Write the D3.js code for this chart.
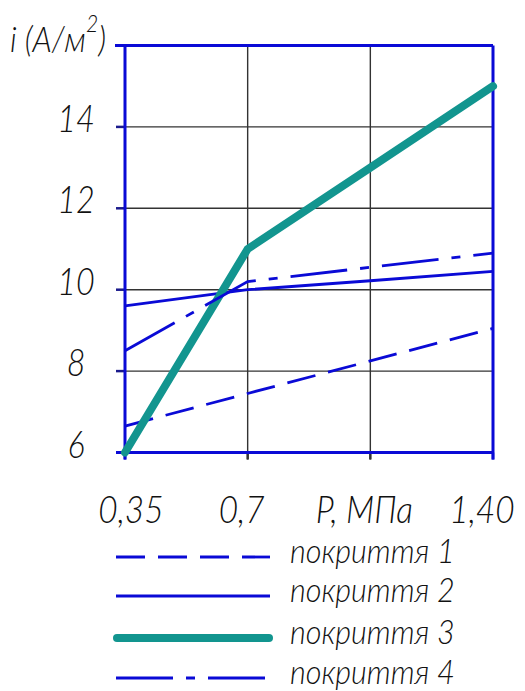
<!DOCTYPE html>
<html><head><meta charset="utf-8">
<script src="https://cdn.jsdelivr.net/npm/d3@7"></script>
<style>
html,body{margin:0;padding:0;background:#fff;}
text{font-family:Lato,Roboto,"DejaVu Sans",sans-serif;font-style:italic;font-weight:300;fill:#111;}
</style></head>
<body><svg id="c" width="525" height="691"></svg>
<script>
const pressures = [0.35, 0.70, 1.05, 1.40];
const xTickLabels = ["0,35", "0,7", "P, МПа", "1,40"];
const yTicks = [6, 8, 10, 12, 14];
const yTickLabels = ["6", "8", "10", "12", "14"];
const coating1 = [6.65, 7.45, 8.25, 9.05];
const coating2 = [9.6, 10.0, 10.22, 10.45];
const coating3 = [6.0, 11.0, 13.0, 15.0];
const coating4 = [8.5, 10.2, 10.55, 10.9];
const seriesNames = ["покриття 1", "покриття 2", "покриття 3", "покриття 4"];

const svg = d3.select("#c");
const x = d3.scaleLinear().domain([0.35, 1.40]).range([125, 493]);
const y = d3.scaleLinear().domain([6, 16]).range([452.5, 45.5]);

const BLUE = "#0a0ad6", TEAL = "#12958f", NAVY = "#1a1a8c";
const styles = [
  {stroke: BLUE, width: 2.8, dash: "29,13", cap: "butt"},
  {stroke: BLUE, width: 2.8, dash: null, cap: "butt"},
  {stroke: TEAL, width: 8, dash: null, cap: "round"},
  {stroke: BLUE, width: 2.8, dash: "57,13,9,13", cap: "butt"}
];
const series = [coating1, coating2, coating3, coating4];

// grid
const g = svg.append("g");
g.selectAll(".gx").data(pressures.slice(1, 3)).join("line")
  .attr("x1", d => x(d)).attr("x2", d => x(d))
  .attr("y1", y(16)).attr("y2", y(6) + 7)
  .attr("stroke", "#333").attr("stroke-width", 1.4);
g.selectAll(".gy").data(yTicks.slice(1)).join("line")
  .attr("x1", x(0.35)).attr("x2", x(1.40))
  .attr("y1", d => y(d)).attr("y2", d => y(d))
  .attr("stroke", "#333").attr("stroke-width", 1.4);
// left ticks
g.selectAll(".ty").data(yTicks).join("line")
  .attr("x1", x(0.35) - 9).attr("x2", x(0.35))
  .attr("y1", d => y(d)).attr("y2", d => y(d))
  .attr("stroke", NAVY).attr("stroke-width", 2.5);
// bottom ticks
g.selectAll(".tx").data(pressures).join("line")
  .attr("x1", d => x(d)).attr("x2", d => x(d))
  .attr("y1", y(6)).attr("y2", y(6) + 7)
  .attr("stroke", d => (d === 0.35 || d === 1.40) ? BLUE : "#333").attr("stroke-width", 2.5);

// frame
const fw = 3;
g.append("line").attr("x1", x(0.35) - 10).attr("x2", x(1.40)).attr("y1", y(16)).attr("y2", y(16)).attr("stroke", BLUE).attr("stroke-width", fw);
g.append("line").attr("x1", x(0.35) - 9).attr("x2", x(1.40)).attr("y1", y(6)).attr("y2", y(6)).attr("stroke", BLUE).attr("stroke-width", fw);
g.append("line").attr("x1", x(0.35)).attr("x2", x(0.35)).attr("y1", y(16)).attr("y2", y(6) + 7).attr("stroke", BLUE).attr("stroke-width", fw);
g.append("line").attr("x1", x(1.40)).attr("x2", x(1.40)).attr("y1", y(16)).attr("y2", y(6) + 7).attr("stroke", BLUE).attr("stroke-width", fw);

// series
const line = d3.line().x((d, i) => x(pressures[i])).y(d => y(d));
series.forEach((s, k) => {
  const st = styles[k];
  svg.append("path").datum(s).attr("d", line)
    .attr("fill", "none").attr("stroke", st.stroke).attr("stroke-width", st.width)
    .attr("stroke-linecap", st.cap).attr("stroke-linejoin", "miter")
    .attr("stroke-dasharray", st.dash);
});

// y tick labels
yTickLabels.forEach((t, i) => {
  svg.append("text").attr("transform", `translate(76,${y(yTicks[i]) + 5}) scale(0.85,1)`)
    .attr("text-anchor", "middle").attr("font-size", 38).text(t);
});
// x tick labels
xTickLabels.forEach((t, i) => {
  const dx = i === 0 ? 6 : (i === 3 ? -11 : -6);
  svg.append("text").attr("transform", `translate(${x(pressures[i]) + dx},523) scale(0.88,1)`)
    .attr("text-anchor", "middle").attr("font-size", 38).text(t);
});
// y title
const yt = svg.append("text").attr("transform", "translate(10,52) scale(0.88,1)").attr("font-size", 36);
yt.append("tspan").text("i (A/м");
yt.append("tspan").attr("font-size", 24).attr("dy", -20).text("2");
yt.append("tspan").attr("dy", 20).text(")");

// legend
const legY = [557, 596, 638, 678];
seriesNames.forEach((n, k) => {
  const st = styles[k];
  svg.append("line").attr("x1", k === 2 ? 117 : 116).attr("x2", k === 2 ? 269 : 270)
    .attr("y1", legY[k]).attr("y2", legY[k])
    .attr("stroke", st.stroke).attr("stroke-width", st.width)
    .attr("stroke-linecap", st.cap).attr("stroke-dasharray", st.dash);
  svg.append("text").attr("transform", `translate(290,${legY[k] + 6}) scale(0.9,1)`)
    .attr("font-size", 34).text(n);
});
</script></body></html>
